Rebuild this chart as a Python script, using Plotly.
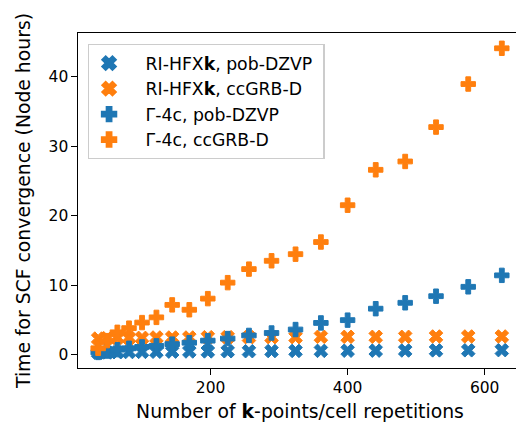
import plotly.graph_objects as go

# k-points / cell repetitions
n_k = [36, 49, 64, 81, 100, 121, 144, 169, 196, 225, 256, 289, 324, 361, 400, 441, 484, 529, 576, 625]

# Time for SCF convergence (node hours)
ri_pob = [0.25, 0.3, 0.33, 0.36, 0.38, 0.4, 0.42, 0.44, 0.45, 0.47, 0.48, 0.5, 0.52, 0.53, 0.55, 0.56, 0.58, 0.6, 0.61, 0.63]
ri_cc = [2.3, 2.35, 2.4, 2.4, 2.4, 2.45, 2.45, 2.45, 2.5, 2.5, 2.5, 2.5, 2.5, 2.55, 2.55, 2.55, 2.55, 2.6, 2.6, 2.6]
g_pob = [0.3, 0.5, 0.7, 0.9, 1.1, 1.25, 1.5, 1.7, 2.0, 2.3, 2.75, 3.1, 3.6, 4.55, 4.95, 6.6, 7.45, 8.4, 9.75, 11.4]
g_cc = [0.9, 2.0, 3.2, 3.8, 4.6, 5.35, 7.15, 6.45, 8.05, 10.35, 12.3, 13.5, 14.45, 16.2, 21.5, 26.6, 27.8, 32.75, 38.95, 44.1]

names = ["RI-HFX<b>k</b>, pob-DZVP", "RI-HFX<b>k</b>, ccGRB-D", "Γ-4c, pob-DZVP", "Γ-4c, ccGRB-D"]
blue, orange = "#1f77b4", "#ff7f0e"

series = [(ri_pob, blue, "x"), (ri_cc, orange, "x"), (g_pob, blue, "cross"), (g_cc, orange, "cross")]

fig = go.Figure()
for (vals, col, sym), nm in zip(series, names):
    fig.add_trace(go.Scatter(
        x=n_k, y=vals, mode="markers", name="\u00a0\u00a0\u00a0" + nm + "\u00a0",
        marker=dict(symbol=sym, size=12, color=col, line=dict(width=1, color=col)),
    ))

font = "DejaVu Sans, sans-serif"
axis_common = dict(
    showline=True, linecolor="black", linewidth=1.25, mirror=True,
    ticks="outside", ticklen=5.5, tickwidth=1.25, tickcolor="black",
    showgrid=False, zeroline=False,
    tickfont=dict(family=font, size=15.5, color="black"),
)

# page body has an 8px margin, so the figure is drawn 8px smaller and offset
fig.update_layout(
    width=516, height=417,
    margin=dict(l=70, r=2, t=25, b=57),
    paper_bgcolor="white", plot_bgcolor="white",
    font=dict(family=font, color="black"),
    xaxis=dict(range=[6.55, 654.45], tickvals=[200, 400, 600],
               title=dict(text="Number of <b>k</b>-points/cell repetitions",
                          font=dict(family=font, size=18.8), standoff=8),
               **axis_common),
    yaxis=dict(range=[-1.94, 46.3], tickvals=[0, 10, 20, 30, 40],
               title=dict(text="Time for SCF convergence (Node hours)",
                          font=dict(family=font, size=18.8), standoff=12),
               **axis_common),
    legend=dict(x=0.022, y=0.967, xanchor="left", yanchor="top",
                bgcolor="rgba(255,255,255,0.8)", bordercolor="#cccccc", borderwidth=1.3,
                font=dict(family=font, size=17.3, color="black"), itemsizing="constant"),
    showlegend=True,
)

fig.write_html("out.html")
